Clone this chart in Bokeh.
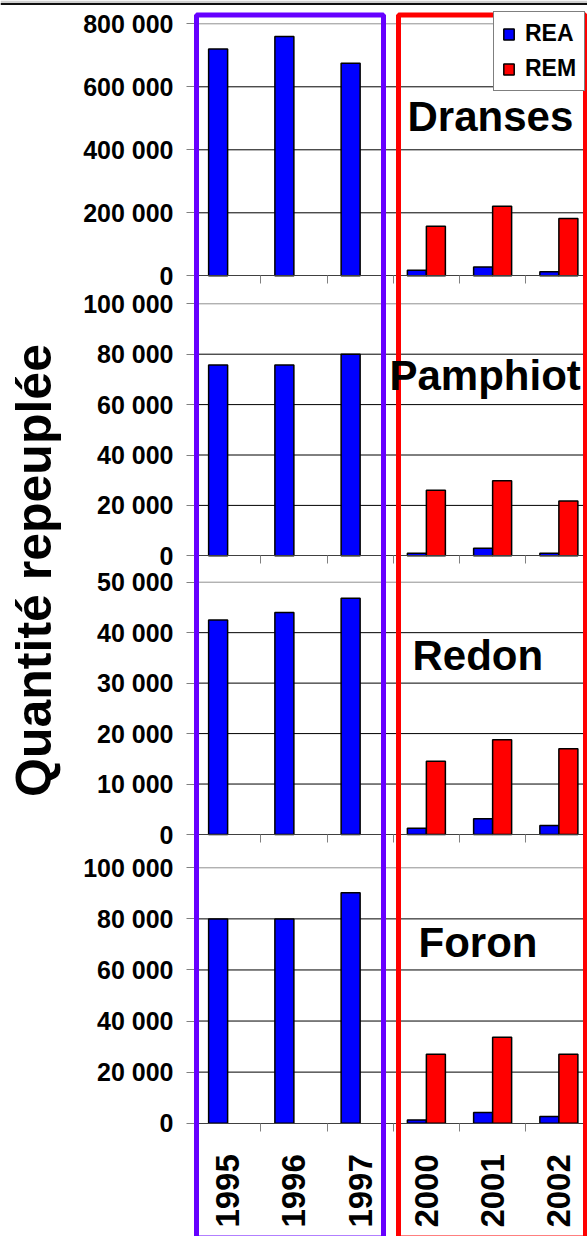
import math
from bokeh.plotting import figure
from bokeh.models import (Range1d, LinearAxis, FixedTicker, Label, Legend,
                          LegendItem)
from bokeh.embed import file_html
from bokeh.resources import INLINE

# ---------------- data ----------------
years = ["1995", "1996", "1997", "2000", "2001", "2002"]
rivers = ["Dranses", "Pamphiot", "Redon", "Foron"]

rea_dranses = [720000, 760000, 675000, 18000, 28000, 13000]
rem_dranses = [0, 0, 0, 157000, 221000, 182000]
rea_pamphiot = [75700, 75700, 80000, 1000, 3000, 1000]
rem_pamphiot = [0, 0, 0, 26000, 29800, 21700]
rea_redon = [42500, 44000, 46800, 1250, 3100, 1800]
rem_redon = [0, 0, 0, 14500, 18800, 17000]
rea_foron = [80000, 80000, 90200, 1300, 4200, 2600]
rem_foron = [0, 0, 0, 27000, 33700, 27000]

ticks_dranses = [0, 200000, 400000, 600000, 800000]
ticks_pamphiot = [0, 20000, 40000, 60000, 80000, 100000]
ticks_redon = [0, 10000, 20000, 30000, 40000, 50000]
ticks_foron = [0, 20000, 40000, 60000, 80000, 100000]

series_rea = [rea_dranses, rea_pamphiot, rea_redon, rea_foron]
series_rem = [rem_dranses, rem_pamphiot, rem_redon, rem_foron]
panel_ticks = [ticks_dranses, ticks_pamphiot, ticks_redon, ticks_foron]

y_title = "Quantité repeuplée"
legend_labels = ["REA", "REM"]

# ---------------- layout constants ----------------
W, H = 587, 1236
X0 = 194.0          # left edge of plot area (px)
CAT_W = 66.25       # width of one category (px)
BAR_W = 19.0 / CAT_W
# (top pixel of max tick, pixel of zero) per panel
panel_px = [(23.3, 275.3), (303.3, 555.3), (581.7, 834.0), (867.3, 1122.7)]
title_pos = [(407, 116), (389, 375), (412, 655), (418, 942)]

FONT = "Liberation Sans"
BLUE = "#0000FF"
RED = "#FF0000"
PURPLE = "#6600FF"

x_range = Range1d(-0.5 - X0 / CAT_W, -0.5 + (W - X0) / CAT_W)
p = figure(width=W, height=H, x_range=x_range, y_range=Range1d(H, 0),
           output_backend="svg", toolbar_location=None,
           x_axis_location=None, y_axis_location=None,
           min_border=0, outline_line_color=None,
           background_fill_color="white", border_fill_color="white")
p.xgrid.visible = False
p.ygrid.visible = False
p.extra_x_ranges = {"px": Range1d(0, W)}


def fmt(v):
    return f"{v:,}".replace(",", " ")


xs = list(range(len(years)))
bounds_x = [i - 0.5 for i in range(len(years) + 1)]
legend_renderers = []

for k, name in enumerate(rivers):
    rname = f"y{k}"
    ticks = panel_ticks[k]
    M = max(ticks)
    t, b = panel_px[k]
    scale = M / (b - t)
    p.extra_y_ranges[rname] = Range1d(start=(b - H) * scale, end=b * scale)

    # gridlines
    inner = [v for v in ticks if 0 < v < M]
    p.segment(x0=-0.5, x1=5.5, y0=inner, y1=inner, line_color="#000000",
              line_width=1, y_range_name=rname)
    p.segment(x0=-0.5, x1=5.5, y0=[M], y1=[M], line_color="#909090",
              line_width=1, y_range_name=rname)

    # bars
    rea = series_rea[k]
    rem = series_rem[k]
    r_blue = p.vbar(x=[x - BAR_W / 2 for x in xs], top=rea, bottom=0,
                    width=BAR_W, fill_color=BLUE, line_color="black",
                    line_width=1.5, y_range_name=rname)
    idx = [i for i in xs if rem[i] > 0]
    r_red = p.vbar(x=[i + BAR_W / 2 for i in idx], top=[rem[i] for i in idx],
                   bottom=0, width=BAR_W, fill_color=RED, line_color="black",
                   line_width=1.5, y_range_name=rname)
    if k == 0:
        legend_renderers = [r_blue, r_red]

    # y axis
    yax = LinearAxis(y_range_name=rname,
                     ticker=FixedTicker(ticks=ticks, minor_ticks=[]),
                     fixed_location=-0.5, bounds=(0, M),
                     major_label_overrides={v: fmt(v) for v in ticks},
                     major_tick_out=8, major_tick_in=0,
                     minor_tick_out=0, minor_tick_in=0,
                     axis_line_color="#808080",
                     major_tick_line_color="#808080",
                     major_label_text_font=FONT,
                     major_label_text_font_style="bold",
                     major_label_text_font_size="25px",
                     major_label_text_color="black",
                     major_label_standoff=13)
    p.add_layout(yax, "left")

    # x axis (zero line with category separators)
    last = (k == len(rivers) - 1)
    xax = LinearAxis(y_range_name=rname,
                     ticker=FixedTicker(ticks=xs if last else [],
                                        minor_ticks=bounds_x),
                     fixed_location=0, bounds=(-0.5, 5.5),
                     major_tick_out=0, major_tick_in=0,
                     minor_tick_out=8, minor_tick_in=0,
                     minor_tick_line_color="#808080",
                     axis_line_color="#404040",
                     major_label_overrides={i: years[i] for i in xs},
                     major_label_orientation=math.pi / 2,
                     major_label_text_font=FONT,
                     major_label_text_font_style="bold",
                     major_label_text_font_size="33px",
                     major_label_text_color="black",
                     major_label_standoff=23)
    p.add_layout(xax, "below")

    # panel title
    tx, ty = title_pos[k]
    lab = Label(x=tx, y=ty, x_range_name="px", text=name,
                text_font=FONT, text_font_style="bold",
                text_font_size="42px", text_color="black",
                text_baseline="alphabetic", text_align="left")
    lab.level = "overlay"
    p.add_layout(lab)

# decorative frames around the two periods
r1 = p.quad(left=[196], right=[383], top=[14.5], bottom=[1237.5],
            x_range_name="px", fill_color=None, line_color=PURPLE,
            line_width=5)
r2 = p.quad(left=[398], right=[585], top=[14.5], bottom=[1237.5],
            x_range_name="px", fill_color=None, line_color=RED,
            line_width=5)
r1.level = "annotation"
r2.level = "annotation"

# top border of the slide
p.quad(left=[0], right=[W], top=[0], bottom=[2.5], x_range_name="px",
       fill_color="#cfcfcf", line_color=None)
p.segment(x0=[0], x1=[W], y0=[3.6], y1=[3.6], x_range_name="px",
          line_color="#101010", line_width=2)

# y title
ylab = Label(x=33, y=570, x_range_name="px", text=y_title,
             angle=math.pi / 2, text_font=FONT, text_font_style="bold",
             text_font_size="50px", text_color="black",
             text_align="center", text_baseline="alphabetic")
ylab.level = "overlay"
p.add_layout(ylab)

legend = Legend(items=[LegendItem(label=legend_labels[0], renderers=[legend_renderers[0]]),
                       LegendItem(label=legend_labels[1], renderers=[legend_renderers[1]])],
                location=(493, H - 91), orientation="vertical",
                border_line_color="black", border_line_width=1,
                background_fill_color="white", background_fill_alpha=1,
                label_text_font=FONT, label_text_font_style="bold",
                label_text_font_size="23px", label_text_color="black",
                glyph_width=13, glyph_height=14, label_height=25,
                label_standoff=10, spacing=8, padding=8, margin=0)
legend.level = "guide"
p.add_layout(legend)

open("out.html", "w").write(file_html(p, INLINE))
